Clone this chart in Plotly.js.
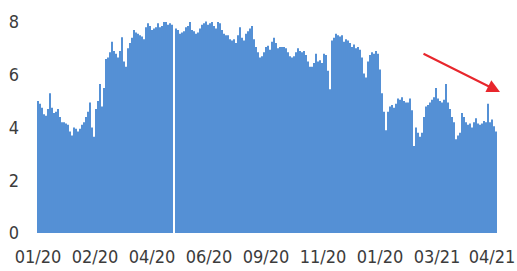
<!DOCTYPE html>
<html>
<head>
<meta charset="utf-8">
<script src="https://cdn.plot.ly/plotly-3.0.1.min.js"></script>
<style>
html,body{margin:0;padding:0;background:#fff;}
#chart{width:517px;height:271px;}
#chart text{font-stretch:condensed !important;}
</style>
</head>
<body>
<div id="chart"></div>
<script>
// Daily values, Jan 2020 – Apr 2021
const values = [
5.0,4.9,4.75,4.5,4.45,4.7,5.3,4.75,4.55,4.6,
4.7,4.4,4.2,4.2,4.15,4.1,3.85,3.7,4.0,3.95,
3.85,3.95,4.1,4.2,4.4,4.6,4.95,4.0,3.65,4.7,
5.0,5.65,4.8,5.5,6.6,6.65,6.85,7.25,6.9,6.8,
6.65,6.9,7.42,6.5,6.3,7.0,7.2,7.4,7.7,7.6,
7.55,7.5,7.45,7.35,7.8,7.95,7.85,7.7,7.75,7.8,
7.95,7.8,7.85,8.0,8.0,7.9,7.95,7.9,null,7.75,
7.7,7.55,7.6,7.65,7.8,7.85,8.0,7.7,7.65,7.55,
7.6,7.75,7.9,7.95,8.02,7.9,7.95,8.0,7.85,7.75,
8.0,7.95,7.7,7.55,7.5,7.5,7.35,7.3,7.35,7.2,
7.5,7.8,7.4,7.3,7.55,7.65,7.75,7.85,7.35,7.05,
6.85,6.65,6.7,6.85,7.05,7.1,6.95,7.25,7.4,7.2,
7.0,7.05,7.05,7.05,7.0,6.85,6.7,6.65,6.7,6.85,
7.0,6.9,6.85,6.9,6.75,6.5,6.3,6.3,6.45,6.8,
6.5,6.55,6.45,6.8,6.75,6.15,5.45,7.3,7.4,7.55,
7.5,7.45,7.5,7.25,7.35,7.3,7.2,7.05,7.15,7.0,
7.05,6.95,6.65,6.05,5.9,6.5,6.75,6.85,6.8,6.9,
6.8,6.2,5.3,4.6,3.9,4.6,4.8,4.85,4.75,4.9,
5.1,5.05,5.15,5.0,4.95,4.95,5.1,4.65,3.3,4.0,
3.8,3.65,3.8,4.4,4.8,4.85,4.95,5.05,5.15,5.5,
5.1,5.0,4.95,5.05,5.65,4.95,4.7,4.4,4.2,3.55,
3.7,3.8,4.55,4.4,4.2,4.1,4.15,4.0,4.2,4.35,
4.15,4.1,4.15,4.25,4.2,4.9,4.2,4.3,4.05,3.85
];
const tickLabels = ["01/20","02/20","04/20","06/20","09/20","11/20","01/20","03/21","04/21"];
const tickPositions = [0,28.5,57,85.5,114,142.5,171,199.5,227];
const yTicks = [0,2,4,6,8];

const xIdx = values.map((v,i)=>i);

const font = {family:'"DejaVu Sans Condensed","DejaVu Sans",sans-serif', size:18, color:'#3c3c3c'};

Plotly.newPlot('chart',[{
  type:'bar', x:xIdx, y:values,
  marker:{color:'#2f78cc', line:{width:0}},
  hoverinfo:'none'
}],{
  width:517, height:271,
  margin:{l:37, r:20, t:11, b:38, pad:0},
  paper_bgcolor:'#fff', plot_bgcolor:'#fff',
  bargap:0.18,
  showlegend:false,
  font:font,
  xaxis:{
    range:[-0.5,229.5], tickmode:'array', tickvals:tickPositions, ticktext:tickLabels,
    showgrid:false, zeroline:false, showline:false, ticks:'', ticklabelstandoff:11,
    ticklabeloverflow:'allow', tickfont:font, fixedrange:true
  },
  yaxis:{
    range:[0,8.417], tickmode:'array', tickvals:yTicks, ticktext:yTicks.map(String),
    showgrid:false, zeroline:false, showline:false, ticks:'', ticklabelstandoff:17,
    tickfont:font, fixedrange:true
  },
  annotations:[{
    xref:'paper', yref:'paper',
    x:(500-37)/460, y:(233-92)/222,
    ax:422-500, ay:53-92, axref:'pixel', ayref:'pixel',
    showarrow:true, arrowhead:2, arrowsize:1.3, arrowwidth:2, arrowcolor:'#e8262c',
    text:''
  }]
},{displayModeBar:false, staticPlot:true});
</script>
</body>
</html>
